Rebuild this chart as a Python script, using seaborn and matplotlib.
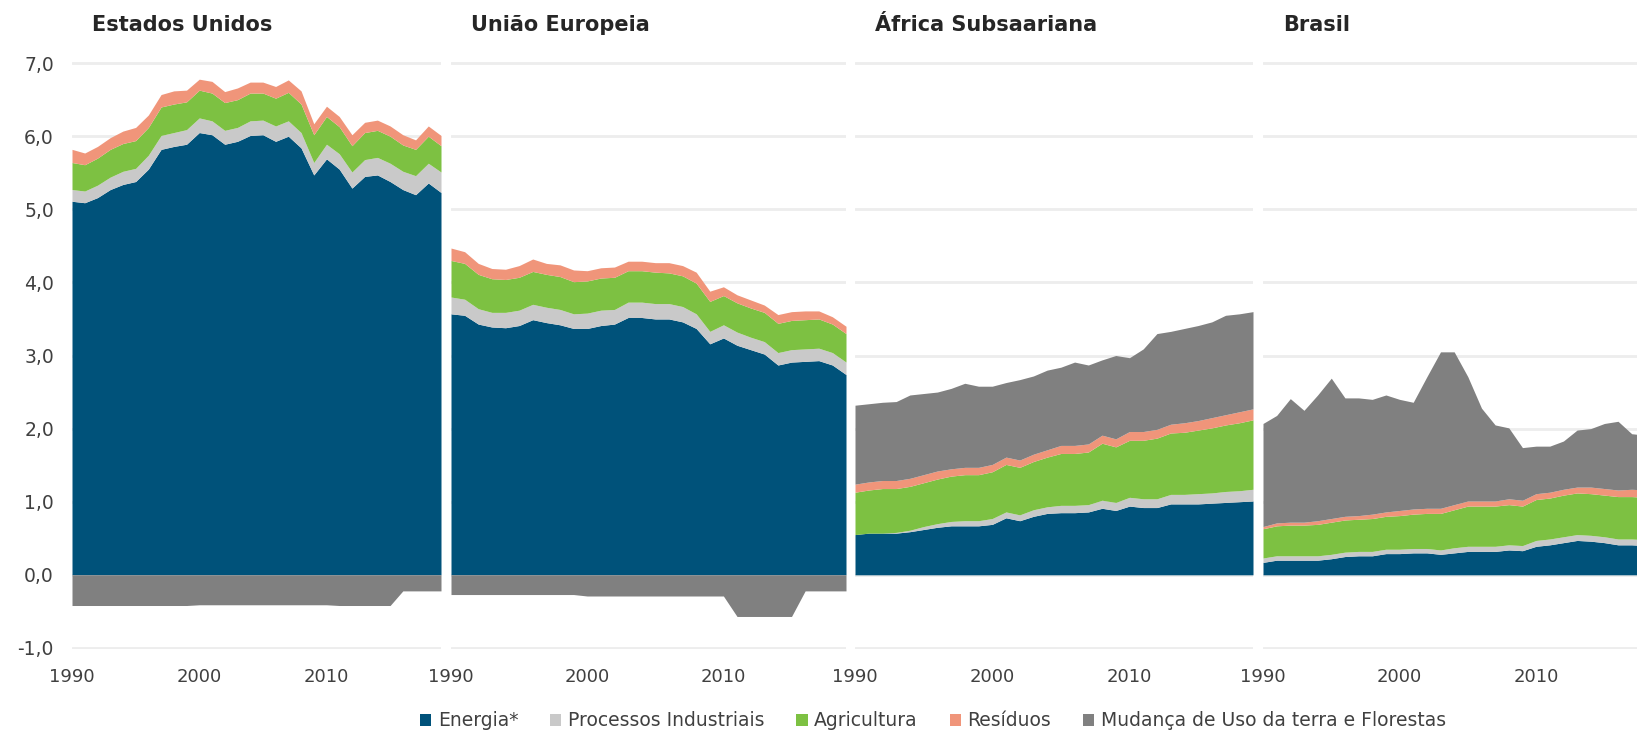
import numpy as np
import pandas as pd
import matplotlib
matplotlib.use("Agg")
import matplotlib.pyplot as plt
from matplotlib.patches import Patch
from matplotlib.ticker import FuncFormatter
import seaborn as sns

# anos e setores
anos = list(range(1990, 2020))
setores = ["Energia*", "Processos Industriais", "Agricultura", "Resíduos",
           "Mudança de Uso da terra e Florestas"]
cores = ["#00527A", "#C9C9C9", "#7DC142", "#F0957A", "#808080"]

# Estados Unidos (GtCO2e)
eua_energia = [5.11, 5.09, 5.16, 5.27, 5.34, 5.38, 5.55, 5.82, 5.86, 5.89, 6.05, 6.02, 5.89, 5.93, 6.01,
               6.02, 5.93, 6.00, 5.84, 5.47, 5.69, 5.55, 5.29, 5.45, 5.47, 5.38, 5.27, 5.20, 5.36, 5.23]
eua_processos = [0.16, 0.16, 0.17, 0.17, 0.18, 0.18, 0.19, 0.19, 0.19, 0.20, 0.20, 0.19, 0.19, 0.19, 0.20,
                 0.20, 0.21, 0.21, 0.21, 0.17, 0.20, 0.21, 0.22, 0.23, 0.24, 0.25, 0.25, 0.26, 0.27, 0.28]
eua_agricultura = [0.37, 0.36, 0.37, 0.38, 0.38, 0.38, 0.38, 0.39, 0.39, 0.38, 0.38, 0.38, 0.38, 0.38, 0.38,
                   0.37, 0.38, 0.39, 0.39, 0.38, 0.38, 0.37, 0.36, 0.37, 0.37, 0.37, 0.36, 0.36, 0.37, 0.36]
eua_residuos = [0.18, 0.16, 0.16, 0.16, 0.17, 0.18, 0.17, 0.17, 0.18, 0.16, 0.15, 0.16, 0.15, 0.16, 0.15,
                0.15, 0.16, 0.17, 0.18, 0.15, 0.14, 0.14, 0.15, 0.14, 0.14, 0.14, 0.14, 0.13, 0.14, 0.14]
eua_mut = [-0.42, -0.42, -0.42, -0.42, -0.42, -0.42, -0.42, -0.42, -0.42, -0.42, -0.41, -0.41, -0.41, -0.41, -0.41,
           -0.41, -0.41, -0.41, -0.41, -0.41, -0.41, -0.42, -0.42, -0.42, -0.42, -0.42, -0.22, -0.22, -0.22, -0.22]

# União Europeia
ue_energia = [3.57, 3.55, 3.43, 3.39, 3.38, 3.41, 3.49, 3.45, 3.42, 3.37, 3.37, 3.41, 3.43, 3.52, 3.52,
              3.50, 3.50, 3.46, 3.37, 3.16, 3.24, 3.14, 3.08, 3.02, 2.87, 2.91, 2.92, 2.93, 2.87, 2.74]
ue_processos = [0.23, 0.22, 0.21, 0.20, 0.21, 0.21, 0.21, 0.21, 0.21, 0.20, 0.21, 0.21, 0.20, 0.21, 0.21,
                0.21, 0.21, 0.21, 0.20, 0.17, 0.18, 0.18, 0.17, 0.17, 0.17, 0.17, 0.17, 0.17, 0.17, 0.17]
ue_agricultura = [0.50, 0.49, 0.47, 0.46, 0.45, 0.45, 0.45, 0.45, 0.45, 0.44, 0.44, 0.44, 0.44, 0.43, 0.43,
                  0.43, 0.42, 0.42, 0.42, 0.41, 0.40, 0.40, 0.40, 0.40, 0.40, 0.40, 0.40, 0.40, 0.39, 0.39]
ue_residuos = [0.17, 0.16, 0.15, 0.14, 0.14, 0.16, 0.17, 0.15, 0.16, 0.16, 0.14, 0.14, 0.14, 0.13, 0.13,
               0.13, 0.14, 0.14, 0.15, 0.14, 0.12, 0.11, 0.11, 0.10, 0.12, 0.12, 0.12, 0.11, 0.10, 0.10]
ue_mut = [-0.27, -0.27, -0.27, -0.27, -0.27, -0.27, -0.27, -0.27, -0.27, -0.27, -0.29, -0.29, -0.29, -0.29, -0.29,
          -0.29, -0.29, -0.29, -0.29, -0.29, -0.29, -0.57, -0.57, -0.57, -0.57, -0.57, -0.22, -0.22, -0.22, -0.22]

# África Subsaariana
af_energia = [0.55, 0.57, 0.57, 0.57, 0.59, 0.62, 0.65, 0.67, 0.67, 0.67, 0.69, 0.78, 0.74, 0.80, 0.84,
              0.85, 0.85, 0.86, 0.91, 0.88, 0.94, 0.92, 0.92, 0.97, 0.97, 0.97, 0.98, 0.99, 1.00, 1.01]
af_processos = [0.00, 0.00, 0.00, 0.01, 0.02, 0.04, 0.05, 0.06, 0.07, 0.07, 0.08, 0.08, 0.08, 0.09, 0.09,
                0.10, 0.10, 0.10, 0.11, 0.11, 0.12, 0.12, 0.12, 0.13, 0.13, 0.14, 0.14, 0.15, 0.15, 0.16]
af_agricultura = [0.58, 0.59, 0.61, 0.60, 0.60, 0.60, 0.61, 0.62, 0.63, 0.63, 0.64, 0.65, 0.65, 0.66, 0.68,
                  0.71, 0.71, 0.72, 0.78, 0.76, 0.78, 0.80, 0.83, 0.84, 0.85, 0.87, 0.89, 0.91, 0.93, 0.95]
af_residuos = [0.11, 0.11, 0.11, 0.11, 0.11, 0.11, 0.11, 0.10, 0.10, 0.10, 0.10, 0.10, 0.10, 0.10, 0.10,
               0.11, 0.11, 0.11, 0.11, 0.11, 0.12, 0.12, 0.12, 0.12, 0.13, 0.13, 0.14, 0.14, 0.15, 0.15]
af_mut = [1.08, 1.07, 1.07, 1.08, 1.14, 1.11, 1.08, 1.10, 1.15, 1.11, 1.07, 1.02, 1.10, 1.07, 1.09,
          1.07, 1.14, 1.08, 1.03, 1.14, 1.01, 1.13, 1.31, 1.27, 1.29, 1.30, 1.31, 1.36, 1.34, 1.33]

# Brasil
br_energia = [0.17, 0.20, 0.20, 0.20, 0.20, 0.22, 0.25, 0.26, 0.26, 0.29, 0.29, 0.30, 0.30, 0.28, 0.30,
              0.32, 0.32, 0.32, 0.34, 0.33, 0.39, 0.41, 0.44, 0.47, 0.46, 0.44, 0.41, 0.41, 0.40, 0.40]
br_processos = [0.06, 0.06, 0.06, 0.06, 0.06, 0.06, 0.06, 0.06, 0.06, 0.06, 0.06, 0.06, 0.06, 0.06, 0.07,
                0.07, 0.07, 0.07, 0.07, 0.07, 0.08, 0.08, 0.08, 0.08, 0.08, 0.08, 0.08, 0.08, 0.08, 0.08]
br_agricultura = [0.40, 0.41, 0.42, 0.42, 0.43, 0.44, 0.44, 0.44, 0.45, 0.45, 0.46, 0.47, 0.48, 0.50, 0.52,
                  0.55, 0.55, 0.55, 0.55, 0.54, 0.56, 0.56, 0.57, 0.57, 0.57, 0.57, 0.58, 0.58, 0.58, 0.58]
br_residuos = [0.03, 0.04, 0.04, 0.04, 0.05, 0.05, 0.05, 0.05, 0.06, 0.06, 0.07, 0.07, 0.07, 0.07, 0.07,
               0.07, 0.07, 0.07, 0.08, 0.08, 0.08, 0.08, 0.08, 0.08, 0.09, 0.09, 0.09, 0.10, 0.10, 0.10]
br_mut = [1.41, 1.47, 1.69, 1.53, 1.72, 1.92, 1.62, 1.61, 1.57, 1.60, 1.52, 1.46, 1.80, 2.14, 2.09,
          1.70, 1.27, 1.04, 0.97, 0.72, 0.65, 0.63, 0.66, 0.78, 0.80, 0.89, 0.94, 0.76, 0.75, 0.80]

regioes = [
    ("Estados Unidos", [eua_energia, eua_processos, eua_agricultura, eua_residuos, eua_mut]),
    ("União Europeia", [ue_energia, ue_processos, ue_agricultura, ue_residuos, ue_mut]),
    ("África Subsaariana", [af_energia, af_processos, af_agricultura, af_residuos, af_mut]),
    ("Brasil", [br_energia, br_processos, br_agricultura, br_residuos, br_mut]),
]

sns.set_theme(style="white")
plt.rcParams['font.family'] = ['DejaVu Sans']

W, H = 1637, 733
fig = plt.figure(figsize=(W / 100, H / 100), dpi=100)

# posicoes dos paineis em pixels (esquerda, largura)
paineis = [(72, 369), (451, 395), (855, 398), (1263, 396)]
topo, base_px = 62, 649

for i, ((nome, series), (px, pw)) in enumerate(zip(regioes, paineis)):
    ax = fig.add_axes([px / W, 1 - base_px / H, pw / W, (base_px - topo) / H])
    df = pd.DataFrame(dict(zip(setores, series)), index=anos)

    base = np.zeros(len(df))
    for setor, cor in zip(setores[:4], cores[:4]):
        ax.fill_between(df.index, base, base + df[setor], color=cor, lw=0)
        base = base + df[setor].values
    mut = df[setores[4]].values
    ax.fill_between(df.index, base, base + np.clip(mut, 0, None), color=cores[4], lw=0)
    ax.fill_between(df.index, 0, np.clip(mut, None, 0), color=cores[4], lw=0)

    ax.set_xlim(1990, 2019)
    ax.set_ylim(-1.015, 7.015)
    ax.set_yticks(range(-1, 8))
    ax.set_xticks([1990, 2000, 2010])
    ax.grid(axis='y', color='#EDEDED', lw=2)
    ax.grid(axis='x', visible=False)
    ax.set_axisbelow(True)
    sns.despine(ax=ax, left=True, bottom=True)
    ax.yaxis.set_major_formatter(FuncFormatter(lambda v, p: f"{v:.1f}".replace('.', ',')))
    ax.tick_params(axis='x', length=0, pad=14, labelsize=13, labelcolor='#404040')
    ax.tick_params(axis='y', length=0, pad=13, labelsize=13.5, labelcolor='#404040')
    if i > 0:
        ax.tick_params(axis='y', labelleft=False)
    fig.text((px + 20) / W, 1 - 25 / H, nome, fontsize=15, fontweight='bold',
             color='#262626', ha='left', va='center')

handles = [Patch(facecolor=c, edgecolor='none') for c in cores]
fig.legend(handles, setores, loc='center', bbox_to_anchor=(0.57, 1 - 721 / H), ncol=5,
           frameon=False, fontsize=13.5, handlelength=0.6, handleheight=0.6,
           handletextpad=0.35, columnspacing=1.7, labelcolor='#404040')

fig.savefig("out.png", dpi=100)
